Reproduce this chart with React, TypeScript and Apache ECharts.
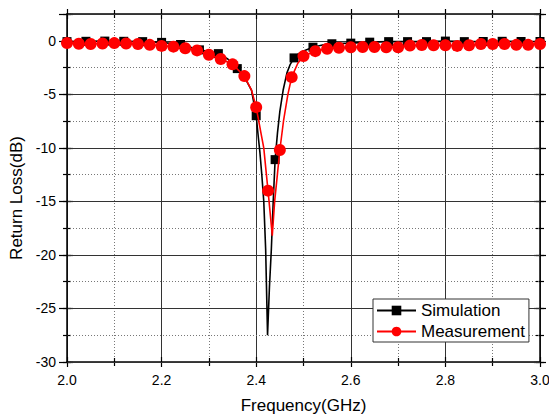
import React, { useEffect, useRef } from "react";
import * as echarts from "echarts";

const FONT = "'Liberation Sans', Arial, Helvetica, sans-serif";

// Frequency range / ticks
const xMin = 2.0;
const xMax = 3.0;
const xStep = 0.2;
const yMin = -30;
const yMax = 2.5;
const yStep = 5;

// Simulation (black, square marker every 0.04 GHz)
const simFreq = [
  2.0, 2.04, 2.08, 2.12, 2.16, 2.2, 2.24, 2.28, 2.3, 2.32, 2.34, 2.36, 2.38, 2.39,
  2.4, 2.404, 2.408, 2.412, 2.416, 2.42, 2.424, 2.428, 2.432, 2.436, 2.44, 2.445,
  2.45, 2.457, 2.465, 2.472, 2.48, 2.49, 2.5, 2.52, 2.54, 2.56, 2.6, 2.64, 2.68,
  2.72, 2.76, 2.8, 2.84, 2.88, 2.92, 2.96, 3.0,
];
const simLoss = [
  -0.08, -0.05, -0.03, -0.05, -0.08, -0.15, -0.35, -0.85, -1.0, -1.2, -1.7, -2.6,
  -3.8, -4.6, -7.0, -8.8, -10.5, -12.6, -15.0, -19.5, -27.5, -23.0, -19.5, -15.0,
  -11.1, -8.6, -6.6, -4.6, -3.0, -2.2, -1.6, -1.2, -0.95, -0.6, -0.4, -0.28, -0.22,
  -0.13, -0.08, -0.08, -0.08, -0.03, -0.08, -0.07, -0.05, -0.07, -0.07,
];
const simMarkerStep = 0.04;

// Measurement (red, circle marker every 0.025 GHz)
const measFreq = [
  2.0, 2.025, 2.05, 2.075, 2.1, 2.125, 2.15, 2.175, 2.2, 2.225, 2.25, 2.275, 2.3,
  2.325, 2.35, 2.375, 2.39, 2.4, 2.405, 2.41, 2.416, 2.42, 2.425, 2.43, 2.434,
  2.439, 2.445, 2.45, 2.458, 2.467, 2.475, 2.488, 2.5, 2.525, 2.55, 2.575, 2.6,
  2.625, 2.65, 2.675, 2.7, 2.725, 2.75, 2.775, 2.8, 2.825, 2.85, 2.875, 2.9, 2.925,
  2.95, 2.975, 3.0,
];
const measLoss = [
  -0.22, -0.28, -0.3, -0.25, -0.22, -0.25, -0.3, -0.38, -0.48, -0.55, -0.7, -0.9,
  -1.3, -1.7, -2.2, -3.3, -4.6, -6.2, -7.4, -8.6, -10.0, -11.8, -14.0, -16.3, -18.2,
  -15.0, -12.4, -10.2, -7.4, -5.0, -3.4, -2.1, -1.43, -0.97, -0.75, -0.65, -0.6,
  -0.58, -0.58, -0.6, -0.6, -0.45, -0.4, -0.42, -0.42, -0.48, -0.42, -0.3, -0.3,
  -0.3, -0.38, -0.38, -0.3,
];
const measMarkerStep = 0.025;

const isMarker = (f: number, step: number) => {
  const k = (f - xMin) / step;
  return Math.abs(k - Math.round(k)) < 1e-6;
};

const black = "#000";

function xAxisBase(extra: any) {
  return {
    type: "value",
    min: xMin,
    max: xMax,
    interval: xStep,
    axisLine: { show: false, onZero: false },
    axisLabel: { show: false },
    splitLine: { show: false },
    ...extra,
  };
}
function yAxisBase(extra: any) {
  return {
    type: "value",
    min: yMin,
    max: yMax,
    interval: yStep,
    axisLine: { show: false, onZero: false },
    axisLabel: { show: false },
    splitLine: { show: false },
    ...extra,
  };
}

export default function App() {
  const ref = useRef<HTMLDivElement>(null);
  useEffect(() => {
    if (!ref.current) return;
    const chart = echarts.init(ref.current, undefined, { renderer: "svg" });
    const tickStyle = { color: black, width: 1.2 };
    const option: any = {
      animation: false,
      backgroundColor: "#fff",
      grid: { left: 67, right: 9, top: 14, bottom: 56, outerBoundsMode: "none" },
      legend: {
        left: 373,
        top: 299,
        orient: "vertical",
        itemWidth: 39,
        itemHeight: 12,
        itemGap: 4,
        padding: [3, 4, 2, 3],
        borderColor: "#333",
        borderWidth: 1,
        backgroundColor: "#fff",
        textStyle: { fontSize: 17, color: black, fontFamily: FONT },
        data: ["Simulation", "Measurement"],
      },
      xAxis: [
        xAxisBase({
          position: "bottom",
          axisLine: { show: true, onZero: false, lineStyle: { color: black, width: 1.5 } },
          axisTick: { show: true, inside: false, length: 5, lineStyle: tickStyle },
          minorTick: { show: true, splitNumber: 2, length: 4, lineStyle: tickStyle },
          splitLine: { show: true, lineStyle: { color: "#333", width: 1 } },
          minorSplitLine: { show: true, lineStyle: { color: "#777", width: 1, type: [1, 2] } },
          axisLabel: {
            show: true,
            margin: 11,
            fontSize: 14,
            color: black,
            fontFamily: FONT,
            formatter: (v: number) => v.toFixed(1),
          },
          name: "Frequency(GHz)",
          nameLocation: "middle",
          nameGap: 35,
          nameTextStyle: { fontSize: 17, color: black, fontFamily: FONT },
        }),
        xAxisBase({
          position: "bottom",
          axisTick: { show: true, inside: true, length: 5, lineStyle: tickStyle },
          minorTick: { show: true, splitNumber: 2, length: 4, lineStyle: tickStyle },
        }),
        xAxisBase({
          position: "top",
          axisLine: { show: true, onZero: false, lineStyle: { color: black, width: 1.5 } },
          axisTick: { show: true, inside: false, length: 5, lineStyle: tickStyle },
          minorTick: { show: true, splitNumber: 2, length: 4, lineStyle: tickStyle },
        }),
        xAxisBase({
          position: "top",
          axisTick: { show: true, inside: true, length: 5, lineStyle: tickStyle },
          minorTick: { show: true, splitNumber: 2, length: 4, lineStyle: tickStyle },
        }),
      ],
      yAxis: [
        yAxisBase({
          position: "left",
          z: 2,
          axisLine: { show: true, onZero: false, lineStyle: { color: black, width: 1.5 } },
          axisTick: { show: true, inside: false, length: 8, lineStyle: tickStyle },
          splitLine: { show: true, lineStyle: { color: "#333", width: 1 } },
          axisLabel: {
            show: true,
            margin: 11,
            fontSize: 14,
            color: black,
            fontFamily: FONT,
            formatter: (v: number) => (Math.abs(v % yStep) < 1e-9 ? String(v) : ""),
          },
          name: "Return Loss(dB)",
          nameLocation: "middle",
          nameGap: 42,
          nameTextStyle: { fontSize: 17, color: black, fontFamily: FONT, padding: [0, 20, 0, 0] },
        }),
        yAxisBase({
          position: "left",
          z: 1,
          interval: yStep / 2,
          axisTick: { show: true, inside: false, length: 4, lineStyle: tickStyle },
          splitLine: { show: true, lineStyle: { color: "#777", width: 1, type: [1, 2] } },
        }),
        yAxisBase({
          position: "left",
          axisTick: { show: true, inside: true, length: 6, lineStyle: tickStyle },
        }),
        yAxisBase({
          position: "left",
          interval: yStep / 2,
          axisTick: { show: true, inside: true, length: 4, lineStyle: tickStyle },
        }),
        yAxisBase({
          position: "right",
          axisLine: { show: true, onZero: false, lineStyle: { color: black, width: 1.5 } },
          axisTick: { show: true, inside: false, length: 6, lineStyle: tickStyle },
        }),
        yAxisBase({
          position: "right",
          axisTick: { show: true, inside: true, length: 6, lineStyle: tickStyle },
        }),
        yAxisBase({
          position: "right",
          interval: yStep / 2,
          axisTick: { show: true, inside: false, length: 4, lineStyle: tickStyle },
        }),
        yAxisBase({
          position: "right",
          interval: yStep / 2,
          axisTick: { show: true, inside: true, length: 4, lineStyle: tickStyle },
        }),
      ],
      series: [
        {
          type: "line",
          name: "Simulation",
          xAxisIndex: 0,
          yAxisIndex: 0,
          z: 3,
          symbol: "rect",
          symbolSize: 9,
          showSymbol: true,
          showAllSymbol: true,
          smooth: false,
          lineStyle: { color: black, width: 1.6 },
          itemStyle: { color: black },
          data: simFreq.map((f, i) => ({
            value: [f, simLoss[i]],
            symbol: isMarker(f, simMarkerStep) ? "rect" : "none",
          })),
        },
        {
          type: "line",
          name: "Measurement",
          xAxisIndex: 0,
          yAxisIndex: 0,
          z: 4,
          symbol: "circle",
          symbolSize: 12,
          showSymbol: true,
          showAllSymbol: true,
          smooth: false,
          lineStyle: { color: "#ff0000", width: 1.6 },
          itemStyle: { color: "#ff0000" },
          data: measFreq.map((f, i) => ({
            value: [f, measLoss[i]],
            symbol: isMarker(f, measMarkerStep) ? "circle" : "none",
          })),
        },
      ],
    };
    chart.setOption(option);
    return () => chart.dispose();
  }, []);
  return (
    <div
      ref={ref}
      style={{ position: "fixed", left: 0, top: 0, width: 549, height: 418, background: "#fff" }}
    />
  );
}
